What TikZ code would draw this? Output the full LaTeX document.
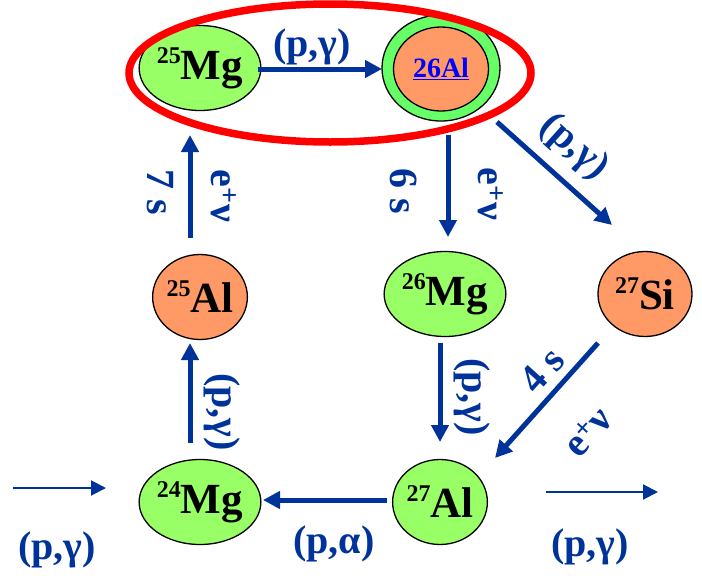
\documentclass[tikz,border=0pt]{standalone}
\usepackage{fontspec}
\setmainfont{Liberation Serif}
\usetikzlibrary{shapes.geometric,arrows.meta,calc}
\definecolor{nblue}{HTML}{003399}
\definecolor{ngreen}{HTML}{99FF66}
\definecolor{nring}{HTML}{66FF66}
\definecolor{norange}{HTML}{FF9966}
\definecolor{nred}{HTML}{FF0000}
\newcommand\isotope[2]{\raisebox{16pt}{\fontsize{24}{24}\selectfont #1}#2}
\newcommand\epnu{e\textsuperscript{+}ν}
\begin{document}
\begin{tikzpicture}[x=1pt,y=-1pt,
  nuc/.style={ellipse, draw=black, line width=1.3pt, inner sep=0pt,
    minimum width=94pt, minimum height=85pt,
    font=\fontsize{43}{43}\selectfont\bfseries},
  stable/.style={nuc, fill=ngreen},
  unstable/.style={nuc, fill=norange},
  arr/.style={draw=nblue, line width=5pt, -{Triangle[length=17pt,width=17pt]}},
  thinarr/.style={draw=nblue, line width=2pt, -{Triangle[length=15pt,width=15pt]}},
  lab/.style={text=nblue, inner sep=0pt, font=\fontsize{40}{40}\selectfont\bfseries},
]
\useasboundingbox (0,0) rectangle (702,576);

% nuclei
\node[stable] (m25) at (200,68) {\isotope{25}{Mg}};
\node[nuc, fill=nring, minimum width=118pt, minimum height=106pt] (al26o) at (441,68) {};
\node[nuc, fill=norange, minimum width=95pt, minimum height=84pt,
      font=\fontsize{28}{28}\selectfont\bfseries, text=blue] (al26) at (441,69) {\underline{26Al}};
\node[stable] (mg26) at (445,294) {\isotope{26}{Mg}};
\node[unstable] (si27) at (645,294) {\isotope{27}{Si}};
\node[unstable] (al25) at (200,297) {\isotope{25}{Al}};
\node[stable] (al27) at (440,502) {\isotope{27}{Al}};
\node[stable] (mg24) at (200,502) {\isotope{24}{Mg}};

% highlight
\node[ellipse, draw=nred, line width=7.5pt, inner sep=0pt,
      minimum width=402pt, minimum height=138pt] (hl) at (330,73) {};

% free ends
\coordinate (inL) at (13,488);
\coordinate (outR) at (658,492);

% arrows
\draw[arr] ($(m25)+(58,1)$) -- ($(al26o)+(-59,1)$);
\draw[arr] ($(al25)+(-10,-59)$) -- ($(m25)+(-10,67)$);
\draw[arr] ($(al26o)+(7,67)$) -- ($(mg26)+(3,-57)$);
\draw[arr] ($(al26o)+(56,54)$) -- ($(si27)+(-33,-69)$);
\draw[arr] ($(mg26)+(-5,49)$) -- ($(al27)+(0,-60)$);
\draw[arr] ($(si27)+(-47,49)$) -- ($(al27)+(55,-44)$);
\draw[arr] ($(al27)+(-53,-2)$) -- ($(mg24)+(63,-2)$);
\draw[arr] ($(mg24)+(-10,-59)$) -- ($(al25)+(-10,46)$);
\draw[thinarr] (inL) -- ($(mg24)+(-94,-14)$);
\draw[thinarr] ($(al27)+(106,-10)$) -- (outR);

% labels
\node[lab] (l1) at (312,47) {(p,γ)};
\node[lab, rotate=-90] (l2) at (160,192) {7 s};
\node[lab, rotate=-90] (l3) at (224,196) {\epnu};
\node[lab, rotate=-90] (l4) at (404,191) {6 s};
\node[lab, rotate=-90] (l5) at (491,194) {\epnu};
\node[lab, rotate=-42] (l6) at (574,147) {(p,γ)};
\node[lab, rotate=-90] (l7) at (472,397) {(p,γ)};
\node[lab, rotate=48] (l8) at (542,370) {4 s};
\node[lab, rotate=48] (l9) at (588,432) {\epnu};
\node[lab, rotate=-90] (l10) at (222,412) {(p,γ)};
\node[lab] (l11) at (334,544) {(p,α)};
\node[lab] (l12) at (57,550) {(p,γ)};
\node[lab] (l13) at (590,547) {(p,γ)};
\end{tikzpicture}
\end{document}
